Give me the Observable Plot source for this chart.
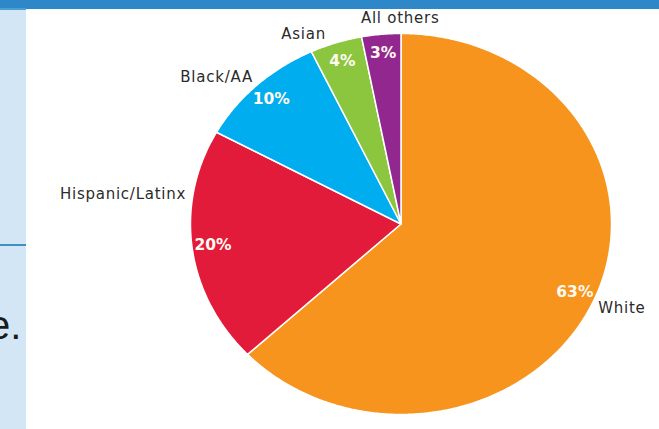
<!DOCTYPE html>
<html>
<head>
<meta charset="utf-8">
<script src="https://cdn.jsdelivr.net/npm/d3@7"></script>
<script src="https://cdn.jsdelivr.net/npm/@observablehq/plot@0.6"></script>
<style>
  body { margin: 0; background: #fff; }
  #wrap { position: relative; width: 659px; height: 429px; overflow: hidden; background: #fff; }
  #chart { position: absolute; left: 0; top: 0; }
  .deco { position: absolute; }
  .cat-label text { letter-spacing: 0.75px; }
</style>
</head>
<body>
<div id="wrap">
  <div id="chart"></div>
  <div class="deco" style="left:0;top:0;width:659px;height:9px;background:#2E87C9;"></div>
  <div class="deco" style="left:0;top:9px;width:26px;height:420px;background:#D3E6F5;"></div>
  <div class="deco" style="left:0;top:8px;width:26px;height:2px;background:#4A9FD5;"></div>
  <div class="deco" style="left:0;top:244px;width:26px;height:2px;background:#3E90C1;"></div>
  <div class="deco" style="left:-12px;top:305px;font-family:'Liberation Sans',Arial,sans-serif;font-size:40px;line-height:40px;color:#1b1b1b;white-space:nowrap;">e.</div>
</div>
<script>
// ---- data ----
const categories = ["White", "Hispanic/Latinx", "Black/AA", "Asian", "All others"];
const shares = [63, 20, 10, 4, 3];
const percentLabels = ["63%", "20%", "10%", "4%", "3%"];
const sliceColors = ["#F7941D", "#E31B3B", "#00AEEF", "#8CC63F", "#92278F"];

// ---- layout (label nudges in px, not data) ----
const labelNudge = {
  "White": {anchor: "start", dx: 4, dy: 9},
  "Hispanic/Latinx": {anchor: "end", dx: -6, dy: -54},
  "Black/AA": {anchor: "end", dx: -4, dy: -8},
  "Asian": {anchor: "end", dx: -10, dy: -9},
  "All others": {anchor: "middle", dx: 19, dy: -16}
};

const rows = categories.map((c, i) => ({cat: c, share: shares[i], pct: percentLabels[i]}));
const arcs = d3.pie().sort(null).value(d => d.share)(rows);

// slice outlines as polygons in unit-circle coordinates
const slicePts = [];
for (const a of arcs) {
  slicePts.push({cat: a.data.cat, x: 0, y: 0});
  const n = Math.max(2, Math.ceil((a.endAngle - a.startAngle) / (Math.PI / 360)));
  for (let k = 0; k <= n; k++) {
    const t = a.startAngle + (a.endAngle - a.startAngle) * k / n;
    slicePts.push({cat: a.data.cat, x: Math.sin(t), y: Math.cos(t)});
  }
}
const mids = arcs.map(a => {
  const m = (a.startAngle + a.endAngle) / 2;
  return {cat: a.data.cat, pct: a.data.pct, sx: Math.sin(m), sy: Math.cos(m)};
});

const W = 659, H = 429;
const chart = Plot.plot({
  width: W,
  height: H,
  marginLeft: 190,
  marginRight: W - 611,
  marginTop: 33,
  marginBottom: H - 414,
  style: {background: "transparent"},
  x: {domain: [-1, 1], axis: null},
  y: {domain: [-1, 1], axis: null},
  color: {domain: categories, range: sliceColors},
  marks: [
    Plot.line(slicePts, {
      x: "x", y: "y", z: "cat", fill: "cat",
      stroke: "white", strokeWidth: 1.5, strokeLinejoin: "round",
      curve: "linear-closed"
    }),
    Plot.text(mids, {
      x: d => 0.9 * d.sx, y: d => 0.9 * d.sy, text: "pct",
      fill: "#fffaf0", fontFamily: "DejaVu Sans", fontWeight: "bold", fontSize: 15.5,
      textAnchor: "middle", lineAnchor: "middle"
    }),
    ...mids.map(m => {
      const nd = labelNudge[m.cat];
      return Plot.text([m], {
        x: d => d.sx, y: d => d.sy, text: "cat",
        fill: "#2b2b2b", fontFamily: "DejaVu Sans", fontSize: 15,
        textAnchor: nd.anchor, lineAnchor: "middle", dx: nd.dx, dy: nd.dy,
        className: "cat-label"
      });
    })
  ]
});
document.getElementById("chart").appendChild(chart);
</script>
</body>
</html>
